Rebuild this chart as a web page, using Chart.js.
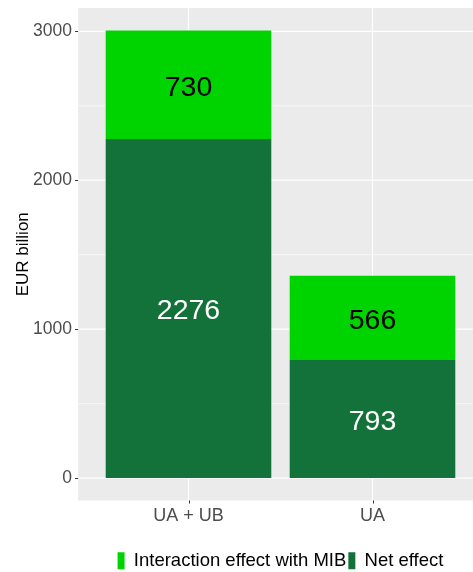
<!DOCTYPE html>
<html>
<head>
<meta charset="utf-8">
<script src="https://cdn.jsdelivr.net/npm/chart.js@4"></script>
<style>
  body { margin: 0; background: #fff; }
  canvas { display: block; }
</style>
</head>
<body>
<canvas id="chart" width="473" height="572"></canvas>
<script>
const categories = ["UA + UB", "UA"];
const netEffect = [2276, 793];
const interactionEffect = [730, 566];
const yTicks = [0, 500, 1000, 1500, 2000, 2500, 3000];

const FONT = "'Liberation Sans', Arial, sans-serif";
const panelBg = "#ebebeb";

// ggplot style panel, grid lines and tick marks
const panelPlugin = {
  id: "panel",
  beforeDatasetsDraw(chart) {
    const { ctx, chartArea, scales } = chart;
    const x = scales.x, y = scales.y;
    const spacing = x.getPixelForValue(1) - x.getPixelForValue(0);
    const left = chartArea.left - 0.1 * spacing;
    const right = chart.width;
    ctx.save();
    ctx.fillStyle = panelBg;
    ctx.fillRect(left, chartArea.top, right - left, chartArea.bottom - chartArea.top);

    ctx.strokeStyle = "#ffffff";
    yTicks.forEach(v => {
      const py = y.getPixelForValue(v);
      ctx.lineWidth = v % 1000 === 0 ? 1.2 : 0.6;
      ctx.beginPath();
      ctx.moveTo(left, py);
      ctx.lineTo(right, py);
      ctx.stroke();
    });
    ctx.lineWidth = 1.2;
    categories.forEach((c, i) => {
      const px = x.getPixelForValue(i);
      ctx.beginPath();
      ctx.moveTo(px, chartArea.top);
      ctx.lineTo(px, chartArea.bottom);
      ctx.stroke();
    });

    // axis tick marks
    ctx.strokeStyle = "#333333";
    ctx.lineWidth = 1;
    yTicks.filter(v => v % 1000 === 0).forEach(v => {
      const py = Math.round(y.getPixelForValue(v)) + 0.5;
      ctx.beginPath();
      ctx.moveTo(left - 3, py);
      ctx.lineTo(left, py);
      ctx.stroke();
    });
    categories.forEach((c, i) => {
      const px = Math.round(x.getPixelForValue(i)) + 0.5;
      ctx.beginPath();
      ctx.moveTo(px, chartArea.bottom);
      ctx.lineTo(px, chartArea.bottom + 3);
      ctx.stroke();
    });
    ctx.restore();
  }
};

// value labels centred in each segment
const labelPlugin = {
  id: "segLabels",
  afterDatasetsDraw(chart) {
    const { ctx } = chart;
    ctx.save();
    ctx.font = "28.5px " + FONT;
    ctx.textAlign = "center";
    ctx.textBaseline = "middle";
    chart.data.datasets.forEach((ds, di) => {
      const meta = chart.getDatasetMeta(di);
      meta.data.forEach((bar, i) => {
        const { x, y, base } = bar.getProps(["x", "y", "base"], true);
        ctx.fillStyle = ds.labelColor;
        ctx.fillText(String(ds.data[i]), x, (y + base) / 2 + 3);
      });
    });
    ctx.restore();
  }
};

const total = netEffect.map((v, i) => v + interactionEffect[i]);
const maxTotal = Math.max(...total);

new Chart(document.getElementById("chart"), {
  type: "bar",
  data: {
    labels: categories,
    datasets: [
      {
        label: "Net effect",
        data: netEffect,
        backgroundColor: "#13723a",
        labelColor: "#ffffff",
        borderWidth: 0,
        barPercentage: 1,
        categoryPercentage: 0.9,
      },
      {
        label: "Interaction effect with MIB",
        data: interactionEffect,
        backgroundColor: "#00d400",
        labelColor: "#000000",
        borderWidth: 0,
        barPercentage: 1,
        categoryPercentage: 0.9,
      },
    ],
  },
  options: {
    responsive: false,
    animation: false,
    layout: { padding: { top: 8, right: 8.5, bottom: -8, left: 0 } },
    scales: {
      x: {
        stacked: true,
        offset: true,
        grid: { display: false, drawTicks: false },
        border: { display: false },
        ticks: { color: "#4d4d4d", font: { family: FONT, size: 18 }, padding: 5 },
        afterFit(scale) {
          scale.height = 49;
          scale.paddingLeft = 0;
          scale.paddingRight = 0;
        },
      },
      y: {
        stacked: true,
        min: -0.05 * maxTotal,
        max: maxTotal * 1.05,
        grid: { display: false, drawTicks: false },
        border: { display: false },
        afterBuildTicks(scale) {
          scale.ticks = yTicks.map(v => ({ value: v }));
        },
        ticks: {
          color: "#4d4d4d",
          font: { family: FONT, size: 17.5 },
          padding: 24.5,
          callback: v => (v % 1000 === 0 ? String(v) : ""),
        },
        title: {
          display: true,
          text: "EUR billion",
          color: "#000000",
          font: { family: FONT, size: 17 },
          padding: { top: 13, bottom: 0 },
        },
        afterFit(scale) {
          scale.width = 96.5;
          scale.paddingTop = 0;
          scale.paddingBottom = 0;
        },
      },
    },
    plugins: {
      legend: {
        position: "bottom",
        fullSize: false,
        reverse: true,
        labels: {
          boxWidth: 7,
          boxHeight: 17,
          padding: 2,
          color: "#000000",
          font: { family: FONT, size: 18.5 },
        },
      },
      tooltip: { enabled: false },
    },
  },
  plugins: [panelPlugin, labelPlugin],
});
</script>
</body>
</html>
